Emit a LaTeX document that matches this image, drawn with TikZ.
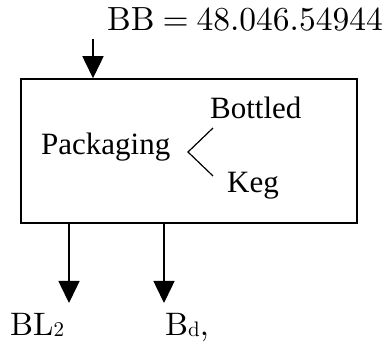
\documentclass[tikz,border=0pt]{standalone}
\usepackage{fontspec}
\newfontfamily\tms{Liberation Serif}
\newfontfamily\lmten{lmroman10-regular.otf}
\usetikzlibrary{arrows.meta}
\newcommand{\lowsub}[1]{\raisebox{-0.5pt}{\fontsize{21}{24}\selectfont #1}}
\tikzset{
  flow/.style={line width=1.5pt,-{Triangle[width=21pt,length=22pt]}},
  lm/.style={inner sep=0pt,anchor=base west,font=\lmten\fontsize{32.5}{38}\selectfont},
  tm/.style={inner sep=0pt,anchor=base west,font=\tms\fontsize{31}{37}\selectfont},
  procbox/.style={draw,line width=1.5pt,minimum width=336pt,minimum height=144pt,inner sep=0pt}
}
\begin{document}
\begin{tikzpicture}[x=1pt,y=-1pt]
\useasboundingbox (0,0) rectangle (388,344);
\node[procbox] (box) at (189,151) {};
\node[lm,font=\lmten\fontsize{33.5}{38}\selectfont] (bb) at (107,31) {BB\hspace{8pt}=\hspace{8pt}48.046.54944};
\coordinate (in) at (93,39);
\draw[flow] (in) -- (in |- box.north);
\node[tm] (pack) at (41,155) {Packaging};
\node[tm] (bot) at (210,119) {Bottled};
\node[tm] (keg) at (227,193) {Keg};
\coordinate (a1) at (213,128);
\coordinate (a2) at (188,152);
\coordinate (a3) at (213,176);
\draw[line width=1.2pt] (a1) -- (a2) -- (a3);
\coordinate (o1) at (69,303);
\coordinate (o2) at (164,303);
\draw[flow] (box.south -| o1) -- (o1);
\draw[flow] (box.south -| o2) -- (o2);
\node[lm] (bl) at (10,336) {BL\lowsub{2}};
\node[lm] (bd) at (165,336) {B\lowsub{d},};
\end{tikzpicture}
\end{document}
